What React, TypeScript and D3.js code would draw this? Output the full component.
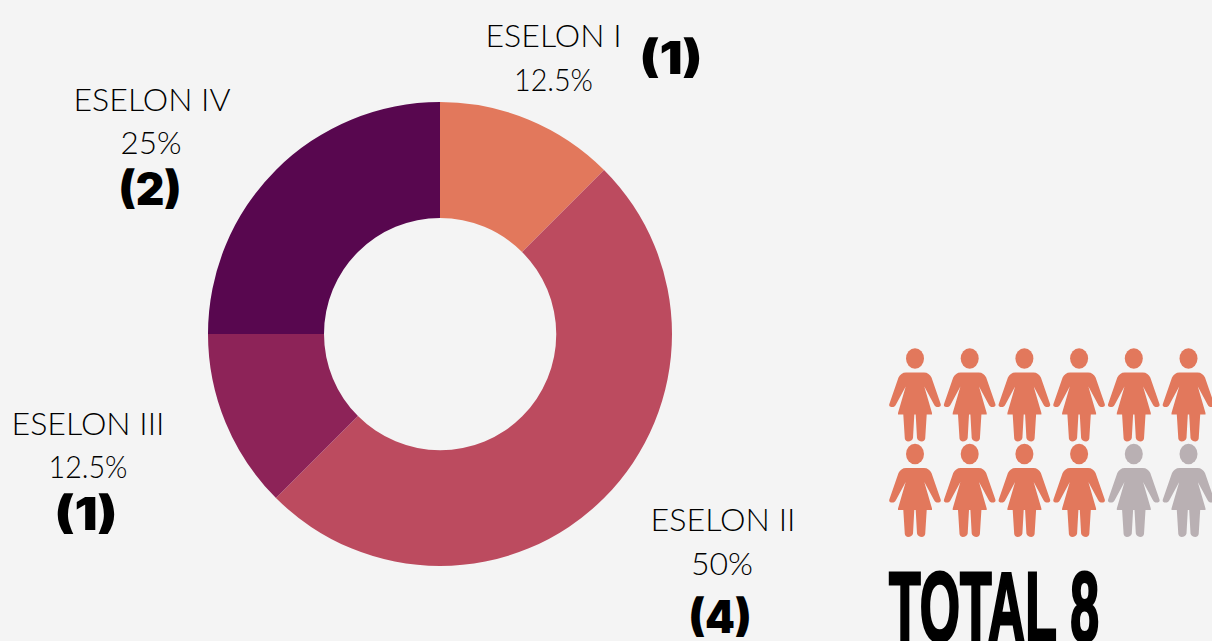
import React from "react";
import * as d3 from "d3";

const categories = ["ESELON I", "ESELON II", "ESELON III", "ESELON IV"];
const shares = [12.5, 50, 12.5, 25];
const shareLabels = ["12.5%", "50%", "12.5%", "25%"];
const counts = ["(1)", "(4)", "(1)", "(2)"];
const colours = ["#e2785c", "#bc4b5f", "#8d2358", "#58074f"];
const peopleHighlighted = 10;
const peopleTotal = 12;
const totalLabel = "TOTAL 8";

const labelLayout = [
  { x: 553.5, y: 47, px: 553.5, py: 91, cx: 671, cy: 74, w: 136, pw: 79 },
  { x: 723, y: 531, px: 722, py: 575, cx: 720, cy: 633, w: 145, pw: 62 },
  { x: 88, y: 435, px: 88, py: 478, cx: 86, cy: 530, w: 153, pw: 79 },
  { x: 152, y: 111, px: 151, py: 154, cx: 150, cy: 205, w: 157, pw: 61 },
];

const W = 1212;
const H = 641;
const labelFont = "Lato, 'Open Sans', sans-serif";
const countFont = "Inter, Roboto, sans-serif";

const PERSON =
  "M-9 14 C-12.5 14 -15 16 -16.5 19 L-25.5 45 C-26.5 47.5 -25 48.5 -23 48.5 C-21 48.5 -20 48 -19 46 " +
  "L-9.3 28 L-17 54.5 L-17 56 L-11.7 56 L-10.2 80 C-10 82 -8 83 -7 83 C-4.5 83 -2.5 81.5 -2 79.5 L-0.7 56 " +
  "L0.7 56 L2 79.5 C2.5 81.5 4.5 83 7 83 C8 83 10 82 10.2 80 L11.7 56 L17 56 L17 54.5 L9.3 28 " +
  "L19 46 C20 48 21 48.5 23 48.5 C25 48.5 26.5 47.5 25.5 45 L16.5 19 C15 16 12.5 14 9 14 Z";

export default function App() {
  const pie = d3.pie<number>().sort(null).value((d) => d)(shares);
  const arc = d3.arc<d3.PieArcDatum<number>>().innerRadius(116).outerRadius(232);
  const xScale = d3.scaleLinear().domain([0, 5]).range([915, 1188.5]);
  const yScale = d3.scaleLinear().domain([0, 1]).range([358.5, 454]);
  const people = d3.range(peopleTotal);

  return (
    <svg
      width={W}
      height={H}
      viewBox={`0 0 ${W} ${H}`}
      style={{ position: "absolute", left: 0, top: 0, background: "#f4f4f4" }}
    >
      <rect width={W} height={H} fill="#f4f4f4" />
      <g transform="translate(440,334)">
        {pie.map((p, i) => (
          <path key={i} d={arc(p) as string} fill={colours[i]} />
        ))}
      </g>
      {categories.map((c, i) => {
        const l = labelLayout[i];
        return (
          <g key={c} textAnchor="middle" fill="#000">
            <text x={l.x} y={l.y} fontFamily={labelFont} fontWeight={300} fontSize={32} textLength={l.w} lengthAdjust="spacingAndGlyphs">{c}</text>
            <text x={l.px} y={l.py} fontFamily={labelFont} fontWeight={300} fontSize={32} textLength={l.pw} lengthAdjust="spacingAndGlyphs">{shareLabels[i]}</text>
            <text x={l.cx} y={l.cy} fontFamily={countFont} fontWeight={900} fontSize={45} textLength={63} lengthAdjust="spacingAndGlyphs">{counts[i]}</text>
          </g>
        );
      })}
      {people.map((n) => (
        <g
          key={n}
          transform={`translate(${xScale(n % 6)},${yScale(Math.floor(n / 6))})`}
          fill={n < peopleHighlighted ? "#e2785c" : "#b9b0b3"}
        >
          <ellipse cx={0} cy={0} rx={9} ry={10.3} />
          <path d={PERSON} />
        </g>
      ))}
      <text
        x={889}
        y={641}
        fontFamily="'Liberation Sans Narrow', 'Liberation Sans', sans-serif"
        fontWeight={700}
        fontSize={98}
        textLength={210}
        lengthAdjust="spacingAndGlyphs"
        stroke="#000"
        strokeWidth={3}
        fill="#000"
      >
        {totalLabel}
      </text>
    </svg>
  );
}
